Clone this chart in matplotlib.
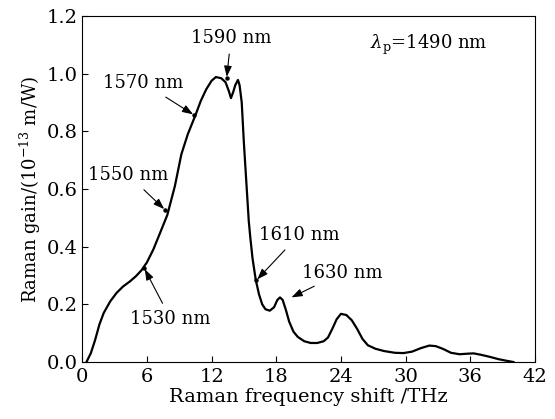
import numpy as np
import matplotlib
matplotlib.use("Agg")
import matplotlib.pyplot as plt

## Data
shift_thz = [0.4, 0.8, 1.2, 1.6, 2.0, 2.6, 3.2, 3.8, 4.45, 5.0, 5.5, 6.0, 6.6, 7.2,
             7.9, 8.6, 9.2, 9.8, 10.5, 11.0, 11.5, 12.0, 12.4, 12.9, 13.3, 13.6,
             13.8, 14.0, 14.2, 14.45, 14.6, 14.8, 15.0, 15.1, 15.3, 15.45, 15.6,
             15.8, 16.1, 16.4, 16.7, 17.0, 17.4, 17.8, 18.1, 18.35, 18.6, 18.9,
             19.2, 19.6, 20.0, 20.6, 21.2, 21.8, 22.4, 22.8, 23.2, 23.6, 24.0,
             24.5, 25.0, 25.5, 26.0, 26.5, 27.2, 28.0, 29.0, 29.8, 30.6, 31.4,
             32.2, 32.8, 33.5, 34.2, 35.0, 35.8, 36.3, 37.0, 37.8, 38.6, 39.4, 40.0]
gain = [0.0, 0.03, 0.076, 0.13, 0.17, 0.21, 0.24, 0.262, 0.28, 0.298, 0.318, 0.345,
        0.39, 0.445, 0.51, 0.61, 0.72, 0.79, 0.855, 0.905, 0.945, 0.975, 0.988,
        0.984, 0.97, 0.94, 0.915, 0.935, 0.96, 0.978, 0.96, 0.90, 0.76, 0.70,
        0.58, 0.49, 0.43, 0.36, 0.285, 0.235, 0.20, 0.183, 0.178, 0.19, 0.215,
        0.224, 0.215, 0.18, 0.14, 0.105, 0.087, 0.072, 0.066, 0.066, 0.072,
        0.085, 0.115, 0.148, 0.167, 0.163, 0.145, 0.115, 0.08, 0.058, 0.046,
        0.038, 0.032, 0.031, 0.036, 0.048, 0.057, 0.055, 0.045, 0.032, 0.027,
        0.029, 0.03, 0.025, 0.018, 0.01, 0.004, 0.0]

## Wavelength labels: text, point on curve, text position
wl_labels = ["1530 nm", "1550 nm", "1570 nm", "1590 nm", "1610 nm", "1630 nm"]
wl_points = [(5.75, 0.326), (7.7, 0.527), (10.4, 0.856), (13.4, 0.984), (16.15, 0.283), (19.3, 0.222)]
wl_text = [(8.2, 0.15), (4.3, 0.648), (5.7, 0.967), (13.8, 1.123), (20.1, 0.44), (24.1, 0.31)]

xticks = [0, 6, 12, 18, 24, 30, 36, 42]
yticks = [0.0, 0.2, 0.4, 0.6, 0.8, 1.0, 1.2]

plt.rcParams["font.family"] = "DejaVu Serif"
plt.rcParams["mathtext.fontset"] = "dejavuserif"

fig = plt.figure(figsize=(5.55, 4.19), dpi=100)
ax = fig.add_axes([0.148, 0.136, 0.816, 0.826])

ax.plot(shift_thz, gain, color="black", lw=1.6)

for lab, pt, tx in zip(wl_labels, wl_points, wl_text):
    if lab != "1630 nm":
        ax.plot(*pt, "o", color="black", ms=2.2)
    ax.annotate(lab, xy=pt, xytext=tx, ha="center", va="center", fontsize=13,
                arrowprops=dict(arrowstyle="-|>,head_length=0.5,head_width=0.18",
                                color="black", lw=0.8, shrinkA=3, shrinkB=1))

ax.text(26.7, 1.1, r"$\lambda_{\mathrm{p}}$=1490 nm", ha="left", va="center", fontsize=13)

ax.set_xlim(0, 42)
ax.set_ylim(0, 1.2)
ax.set_xticks(xticks)
ax.set_yticks(yticks)
ax.set_yticklabels(["{:.1f}".format(v) for v in yticks])
ax.tick_params(direction="in", length=4, width=0.8, labelsize=14)
ax.tick_params(axis="x", pad=4)
ax.tick_params(axis="y", pad=3)
ax.set_xlabel("Raman frequency shift /THz", fontsize=14, labelpad=2)
ax.set_ylabel(r"Raman gain/(10$^{-13}$ m/W)", fontsize=13, labelpad=3)
for s in ax.spines.values():
    s.set_linewidth(0.8)

fig.savefig("out.png", dpi=100)
